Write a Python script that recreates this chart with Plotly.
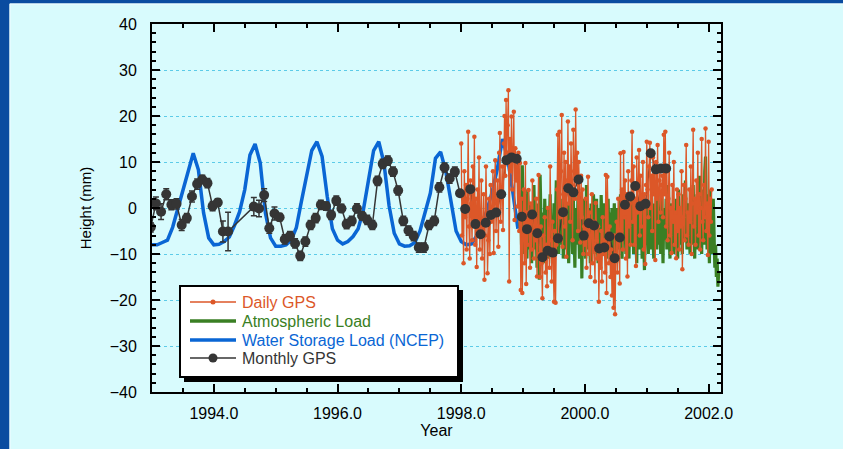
import plotly.graph_objects as go

# ---------------- data ----------------
water_start = 1993.0
water_step = 1 / 12
water_vals = [
    -8.0, -8.0, -7.5, -7.0, -4.2, 0.0, 3.9, 7.8, 11.9, 8.3, -1.0, -6.5,
    -8.0, -7.9, -7.3, -6.3, -3.8, -0.8, 4.0, 11.5, 13.9, 9.8, -1.1, -6.5,
    -8.3, -8.3, -8.0, -7.0, -4.3, 1.5, 7.5, 12.5, 14.4, 11.2, 2.5, -4.5,
    -7.0, -7.8, -7.3, -6.2, -4.5, -0.5, 6.0, 12.5, 14.4, 9.8, 0.5, -5.5,
    -7.8, -8.3, -8.2, -7.5, -5.0, -1.0, 3.2, 10.8, 12.2, 8.0, 1.0, -5.0,
    -7.3, -8.0, -7.8, -6.0, -3.5, -0.5, 3.5, 8.5, 15.0, 10.8, 3.5, -4.5,
]

monthly_start = 1992.98
monthly_months = list(range(0, 16)) + list(range(20, 101))
monthly_vals = [
    -4.2, 1.0, -0.8, 3.0, 0.7, 0.9, -3.7, -2.2, 2.5, 5.2, 6.2, 5.4, 0.4, 1.2, -5.1, -5.1,
    0.3, -0.1, 2.8, -4.4, -1.2, -2.0, -6.8, -6.1, -7.7, -10.4,
    -7.3, -3.7, -2.2, 0.7, 0.4, -1.5, 1.6, -0.1, -3.5, -2.8,
    -0.1, -1.7, -2.6, -3.7, 5.9, 9.6, 10.3, 7.9, 3.8, -2.8,
    -4.9, -6.1, -8.6, -8.6, -3.7, -2.8, 4.5, 8.8, 6.4, 7.9,
    3.2, -0.2, 4.1, -3.5, -5.7, -3.2, -1.5, -1.0, 3.0, 10.4,
    11.0, 10.7, -1.9, -4.6, -1.4, -5.5, -10.7, -9.3, -9.7, -6.6,
    -0.9, 4.3, 3.4, 6.2, -6.0, -3.3, -3.8, -8.8, -8.6, -6.2,
    -10.9, -6.4, 0.7, 2.5, 4.8, 0.4, 0.9, 11.9, 8.4, 8.6, 8.6,
]
monthly_err = [
    1.0, 1.4, 1.7, 1.2, 1.1, 1.1, 1.2, 1.0, 1.2, 1.1, 0.9, 1.0, 1.0, 0.8, 2.3, 4.2,
    2.0, 1.8, 1.4, 1.1, 1.4, 0.8, 1.0, 1.0, 1.0, 1.0,
    1.0, 1.0, 1.0, 1.0, 0.9, 1.0, 1.0, 0.9, 1.0, 1.0,
    1.0, 0.9, 1.0, 1.0, 1.0, 1.0, 1.0, 1.0, 1.0, 1.0,
    1.0, 1.0, 1.0, 1.0, 1.0, 1.0, 1.0, 1.0, 1.0, 1.0,
    0.5, 0.5, 0.5, 0.5, 0.5, 0.5, 0.5, 0.5, 0.5, 0.5,
    0.5, 0.5, 0.5, 0.5, 0.5, 0.5, 0.5, 0.5, 0.5, 0.5,
    0.5, 0.5, 0.5, 0.5, 0.5, 0.5, 0.5, 0.5, 0.5, 0.5,
    0.5, 0.5, 0.5, 0.5, 0.5, 0.5, 0.5, 0.5, 0.5, 0.5, 0.5,
]

daily_start = 1998.0
daily_step = 0.0125
daily_vals = [
    14, -6, 3, -12, 8, -2, 5, -9, 2, 16.6, -4, -11, 6, 1, -7, 9, -3, 15.5, -8, 2,
    -12.8, 4, -5, 11, -9, -2, 6, -11, -4, 3, -15.6, -6, 9, -1, -14.2, -7, 2, -10, 5, -3,
    -2, 8, -9.8, 3, 10.4, -5, 1, 6, -8.4, 12, 16.3, -3, 4, 9, -4.8, 14, 20, 7, 23.5, 12,
    18, 25.6, -16, 15, 8, 19.9, 4, 11, 20.9, -2.6, 13, 6, 9, 0.3, 12, -5, 9.8, -17.8, 2, -18.5,
    -6, 4, -12, 9.8, -16.5, -1, -8, 3.9, -3, -13, 1, -9, 6, -5, -11, -2, -7, 2, -14.9, -4,
    7.2, -10, -15, -4, -12, -19.6, -6, -11, -2, -14, -8, -17, 0, -9, -13, 9, -7, -16, -3, -11,
    -20.4, -5, -20.6, -8, 4, 15.9, -6, 16.6, -2, 8, 20.2, -8.4, 3, 12, -4, 10, -10.6, 6, 18.8, 1,
    9, -3, 14, 5, -7, 17, 8, 2, 21.4, 6, 12, -5, 10, 3, -7.5, 7, -2, 4, -10, -4,
    -8, 2, -13, -4, 6.8, -10, -1, -15, -6, 3, -12, -3, -9, -16, 1.1, -7, -11, -4, -20.4, -9,
    -13, -5, -16, -2, -10, -7, -14, 7.2, -18.5, 6.8, -8, -12, -4, -15, -9, -19, -11, -21.7, -6, -23.1,
    -10, -3, -14, 2, -7, -16.4, 11.9, -5, 4, -9, 12.2, -2, 6, -11, 3, -14.9, 8, -4, 1, -8,
    6, 16.6, -3, 9, -8, 2, -12.6, 11, -1, 4, 12.6, -6, 7, -4, 1, 10, -9, 3, -12.2, 5,
    14.4, 4, -2, 9, 14.2, 0, 7, -5, 11, 3, 8, -11.3, 10, 2, 13.7, -3, 6, 9, -1, 5,
    7, -2, 15.9, 3, 16.6, -4, 8, -7, 2, 12, -6, 0, -9.8, 5, -3, 10, -8, -1, -10.9, 4,
    -5, 3, -9, 0, -4, 8, -13.3, -2, 5, -7, 2, 13.7, -6, -1, -8, 4, -3, 9, -10, 1,
    17, -4, 2, -8, 6, -1, 12, -6, 3, -9, 0, 15, -3, -7, 5, -2, 17.3, -5, 1, -10.2,
    14.4, -6, 2, -3, 4,
]

atm_start = 1998.95
atm_step = 0.0125
atm_vals = [
    -4, 2, -8, 9.3, -2, -10, 3, -6, -1, -11, 4, -5, -9, 1, -3, -12, 0, -7, 5, -4,
    -9, -2, -13, 1, -6, -15.6, 7.2, -4, -10, -1, -7, -12, 2, -5, -9, 0, -3, -11, -6, 3,
    -8, -2, -12, -5, 1, -9, -4, 6, -7, -1, -10, -3, 2, -8, -5, 0, -11, -2, 3, -6,
    -9, 1, -4, -12, -1, 4, -7, -3, -10, 2, -6, -13, 0, -4, -8, 3, -2, -11, -5, 1,
    -15.3, -3, -8, 2, -5, -11, 5, -2, -9, 0, -6, -12, 1, -4, -8, 3, -1, -10, -5, 2,
    -7, -12, 0, -4, -9, 2.8, -3, -10, -6, 1, -8, -2, -11, -5, 2, -7, -1, -9, -4, 0,
    -10, -3, 1, -8, -5, -12, 0, -6, -2, -9, 3, -4, -11, -1, -7, 2, -5, -10, -3, 1,
    -6, -11, 0, -4, -8, 3, -2, -10, -5, 1, -7, -12, -1, -4, -9, 2, -6, -3, -11, 0,
    -5, -13.5, -2, -8, 2, -6, -10, 0, -4, -9, 3, -3, -7, -11, 1, -5, -2, -9, 4, -6,
    -8, -1, -10, 3, -5, -12, 0, -4, -7, 2, -9, -3, 5, -6, -11, 1, -4, -8, 0, -10,
    -3, -9, 2, -6, -11, 4, -2, -8, 0, -5, -10, 3, -4, -7, 6, -1, -9, -3, 1, -6,
    -10, 2, -5, -8, 5, -2, -11, 0, -6, 3, -9, -4, 7, -1, -7, -10, 4, -3, -8, 8,
    11.2, -2, -9, 3, -5, -12, 4, -7, -1, -10, 2, -6, -13, -8, -15, -11, -17.1, -14,
]

x_range = [1993.0, 2002.2]
y_range = [-40, 40]

# ---------------- styles ----------------
CYAN = "#D8FBFD"
FRAME = "#0A4CA0"
ORANGE = "#DC5728"
GREEN = "#3A7F24"
BLUE = "#0A66D4"
DARK = "#353535"
FONT = "Liberation Sans, Arial, Helvetica, sans-serif"

water_t = [water_start + i * water_step for i in range(len(water_vals))]
monthly_t = [monthly_start + m / 12 for m in monthly_months]
daily_t = [daily_start + i * daily_step for i in range(len(daily_vals))]
atm_t = [atm_start + i * atm_step for i in range(len(atm_vals))]

fig = go.Figure()
fig.add_trace(go.Scatter(x=water_t, y=water_vals, mode="lines",
                         line=dict(color=BLUE, width=3.5),
                         name="Water Storage Load (NCEP)"))
fig.add_trace(go.Scatter(x=atm_t, y=atm_vals, mode="lines",
                         line=dict(color=GREEN, width=3.2),
                         name="Atmospheric Load"))
# connecting line of the monthly series sits beneath the daily series
fig.add_trace(go.Scatter(x=monthly_t, y=monthly_vals, mode="lines",
                         line=dict(color=DARK, width=1.5),
                         name="Monthly GPS", hoverinfo="skip"))
fig.add_trace(go.Scatter(x=daily_t, y=daily_vals, mode="lines+markers",
                         line=dict(color=ORANGE, width=1.3),
                         marker=dict(size=4.5, color=ORANGE),
                         name="Daily GPS"))
fig.add_trace(go.Scatter(x=monthly_t, y=monthly_vals, mode="markers",
                         marker=dict(size=10, color=DARK),
                         error_y=dict(type="data", array=monthly_err, color=DARK,
                                      thickness=1.5, width=3),
                         name="Monthly GPS"))

W, H = 843, 449
L, R, T, B = 152, 721, 24, 392
PW, PH = R - L, B - T


def px(x):
    return (x - L) / PW


def py(y):
    return (B - y) / PH


shapes = []
# slide frame
shapes.append(dict(type="rect", xref="paper", yref="paper", x0=px(0), x1=px(9.5),
                   y0=py(449), y1=py(0), fillcolor=FRAME, line=dict(width=0), layer="below"))
shapes.append(dict(type="rect", xref="paper", yref="paper", x0=px(0), x1=px(843),
                   y0=py(3.5), y1=py(0), fillcolor=FRAME, line=dict(width=0), layer="below"))
shapes.append(dict(type="line", xref="paper", yref="paper", x0=px(10), x1=px(10),
                   y0=py(449), y1=py(4), line=dict(color="#F2FCFF", width=1), layer="below"))
shapes.append(dict(type="line", xref="paper", yref="paper", x0=px(10), x1=px(843),
                   y0=py(4), y1=py(4), line=dict(color="#F2FCFF", width=1), layer="below"))

# legend box with shadow
shapes.append(dict(type="rect", xref="paper", yref="paper", x0=px(184), x1=px(463),
                   y0=py(382), y1=py(290), fillcolor="black", line=dict(width=0), layer="above"))
shapes.append(dict(type="rect", xref="paper", yref="paper", x0=px(180), x1=px(458),
                   y0=py(377), y1=py(286), fillcolor="white", line=dict(color="black", width=2),
                   layer="above"))

legend_items = [
    ("Daily GPS", ORANGE, 1.5, 5, 302),
    ("Atmospheric Load", GREEN, 3.5, 0, 321),
    ("Water Storage Load (NCEP)", BLUE, 3.5, 0, 340),
    ("Monthly GPS", DARK, 1.5, 9, 358),
]
annotations = []
for name, col, lw, ms, yy in legend_items:
    shapes.append(dict(type="line", xref="paper", yref="paper", x0=px(190), x1=px(236),
                       y0=py(yy), y1=py(yy), line=dict(color=col, width=lw), layer="above"))
    if ms:
        shapes.append(dict(type="circle", xref="paper", yref="paper", xsizemode="pixel",
                           ysizemode="pixel", xanchor=px(213), yanchor=py(yy),
                           x0=-ms / 2, x1=ms / 2, y0=-ms / 2, y1=ms / 2,
                           fillcolor=col, line=dict(width=0), layer="above"))
    annotations.append(dict(xref="paper", yref="paper", x=px(240), y=py(yy),
                            xanchor="left", yanchor="middle", showarrow=False,
                            text=name, font=dict(family=FONT, size=16, color=col)))

fig.update_layout(
    width=W, height=H,
    margin=dict(l=L, r=W - R, t=T, b=H - B, pad=0),
    paper_bgcolor=CYAN, plot_bgcolor=CYAN,
    showlegend=False,
    font=dict(family=FONT, size=16, color="black"),
    shapes=shapes, annotations=annotations,
)

fig.update_xaxes(
    range=x_range, tick0=1994, dtick=2, tickformat=".1f",
    ticks="inside", ticklen=8, tickwidth=1.5, tickcolor="black",
    showline=True, linecolor="black", linewidth=2, mirror="ticks",
    showgrid=False, zeroline=False,
    minor=dict(tick0=1993, dtick=0.5, ticks="inside", ticklen=4, tickwidth=1.5,
               tickcolor="black", showgrid=False),
    tickfont=dict(size=16), ticklabelstandoff=6,
    title=dict(text="Year", font=dict(size=16), standoff=2),
)
fig.update_yaxes(
    range=y_range, dtick=10,
    ticks="inside", ticklen=8, tickwidth=1.5, tickcolor="black",
    showline=True, linecolor="black", linewidth=2, mirror="ticks",
    showgrid=True, gridcolor="#5CCBE8", griddash="dot", gridwidth=1,
    zeroline=False,
    minor=dict(dtick=2, ticks="inside", ticklen=4, tickwidth=1.5,
               tickcolor="black", showgrid=False),
    tickfont=dict(size=16), ticklabelstandoff=10,
    title=dict(text="Height (mm)", font=dict(size=15), standoff=14),
)

fig.write_html("out.html")
